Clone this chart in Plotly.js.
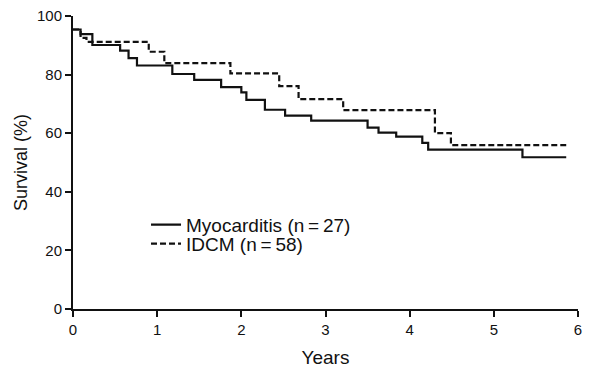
<!DOCTYPE html>
<html>
<head>
<meta charset="utf-8">
<script src="https://cdn.plot.ly/plotly-3.0.1.min.js"></script>
<style>
  html, body { margin: 0; padding: 0; background: #fff; }
  #chart { width: 590px; height: 371px; }
</style>
</head>
<body>
<div id="chart"></div>
<script>
// Myocarditis (solid) Kaplan-Meier steps
const myoYears = [0, 0.09, 0.23, 0.56, 0.66, 0.76, 1.18, 1.44, 1.76, 2.00, 2.06, 2.28, 2.52, 2.83, 3.50, 3.63, 3.84, 4.15, 4.22, 5.34, 5.86];
const myoSurv  = [95.4, 93.8, 90.1, 88.2, 85.6, 83.1, 80.2, 78.2, 75.7, 73.9, 71.4, 68.0, 66.0, 64.3, 61.9, 60.2, 58.8, 56.7, 54.4, 51.8, 51.8];
// IDCM (dashed) Kaplan-Meier steps
const idcmYears = [0, 0.09, 0.16, 0.90, 1.085, 1.87, 2.45, 2.68, 3.21, 4.30, 4.49, 5.86];
const idcmSurv  = [95.4, 92.5, 91.2, 87.8, 83.9, 80.4, 76.1, 71.6, 67.9, 60.0, 55.9, 55.9];

const seriesNames = ['Myocarditis (n\u2009=\u200927)', 'IDCM (n\u2009=\u200958)'];
const xTicks = [0, 1, 2, 3, 4, 5, 6];
const yTicks = [0, 20, 40, 60, 80, 100];

const ink = '#111';
const fontFam = 'Liberation Sans, Arial, Helvetica, sans-serif';
const legendFont = { family: fontFam, size: 19, color: ink };

const traces = [
  {
    x: myoYears, y: myoSurv, name: seriesNames[0], type: 'scatter', mode: 'lines',
    legend: 'legend',
    line: { shape: 'hv', color: ink, width: 2.2 }
  },
  {
    x: idcmYears, y: idcmSurv, name: seriesNames[1], type: 'scatter', mode: 'lines',
    legend: 'legend2',
    line: { shape: 'hv', color: ink, width: 2.2, dash: '6px,3px' }
  }
];

const layout = {
  width: 590, height: 371,
  margin: { l: 73, r: 12, t: 16, b: 62 },
  paper_bgcolor: '#fff', plot_bgcolor: '#fff',
  font: { family: fontFam, color: ink, size: 14 },
  showlegend: true,
  legend: {
    x: 0.1446, y: 0.2874, xanchor: 'left', yanchor: 'middle',
    bgcolor: 'rgba(0,0,0,0)', borderwidth: 0,
    font: legendFont, itemwidth: 30
  },
  legend2: {
    x: 0.1446, y: 0.2226, xanchor: 'left', yanchor: 'middle',
    bgcolor: 'rgba(0,0,0,0)', borderwidth: 0,
    font: legendFont, itemwidth: 30
  },
  xaxis: {
    range: [0, 6], tickvals: xTicks, ticktext: xTicks.map(String),
    showgrid: false, zeroline: false, showline: true, linecolor: ink, linewidth: 2,
    ticks: 'outside', ticklen: 6, tickwidth: 2, tickcolor: ink,
    tickfont: { family: fontFam, size: 15, color: ink },
    title: { text: 'Years', font: { family: fontFam, size: 19, color: ink }, standoff: 14 },
    fixedrange: true
  },
  yaxis: {
    range: [0, 100], tickvals: yTicks, ticktext: yTicks.map(String),
    showgrid: false, zeroline: false, showline: true, linecolor: ink, linewidth: 2,
    ticks: 'outside', ticklen: 6, tickwidth: 2, tickcolor: ink,
    tickfont: { family: fontFam, size: 15, color: ink },
    title: { text: 'Survival (%)', font: { family: fontFam, size: 18, color: ink }, standoff: 5 },
    fixedrange: true
  }
};

Plotly.newPlot('chart', traces, layout, { displayModeBar: false, staticPlot: true });
</script>
</body>
</html>
